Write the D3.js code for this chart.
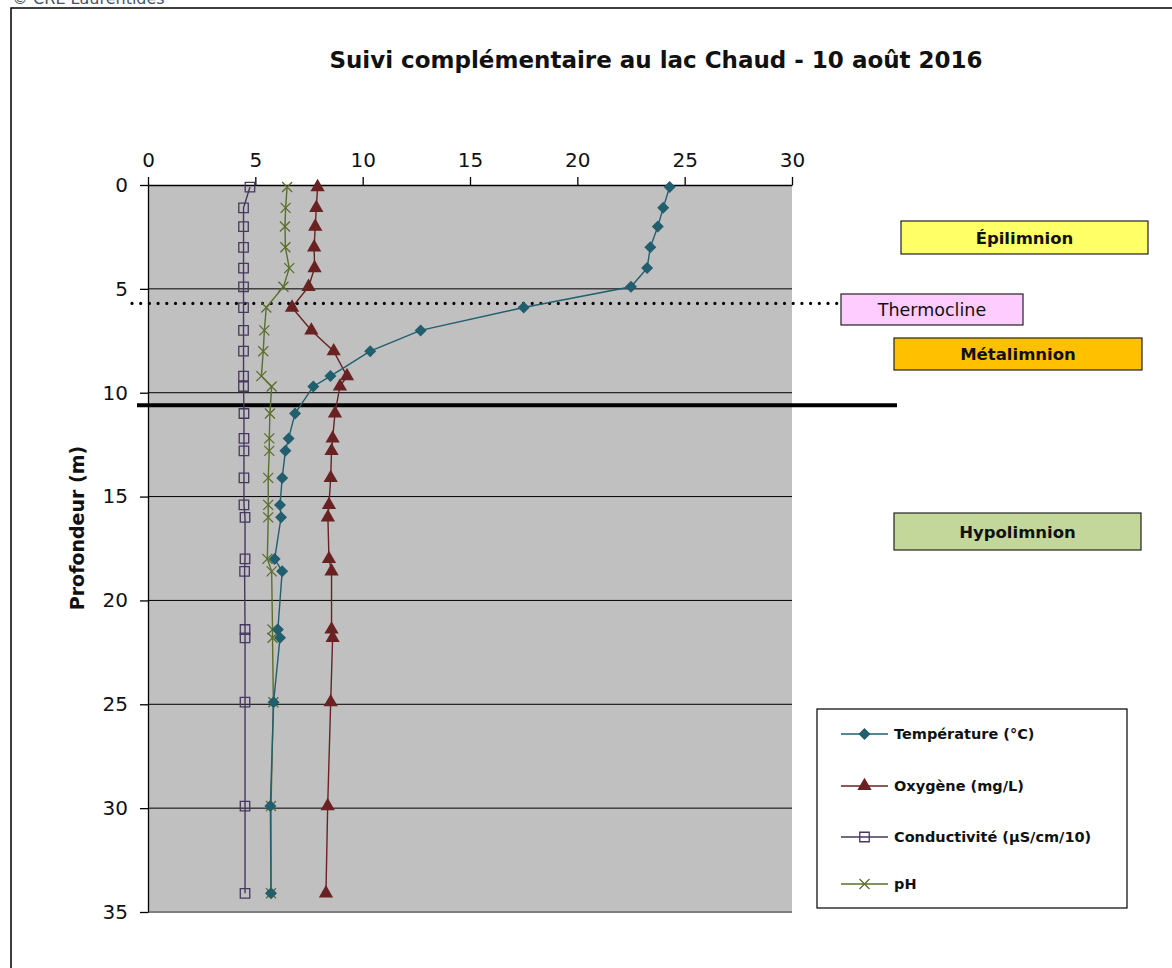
<!DOCTYPE html>
<html>
<head>
<meta charset="utf-8">
<script src="https://cdn.jsdelivr.net/npm/d3@7"></script>
<style>
  body { margin: 0; background: #fff; }
  svg { display: block; font-family: "DejaVu Sans", sans-serif; }
</style>
</head>
<body>
<script>
// data
const depths = [0.1, 1.1, 2.0, 3.0, 4.0, 4.9, 5.9, 7.0, 8.0, 9.2, 9.7, 11.0, 12.2, 12.8, 14.1, 15.4, 16.0, 18.0, 18.6, 21.4, 21.8, 24.9, 29.9, 34.1];
const temperature = [24.3, 24.0, 23.75, 23.4, 23.25, 22.5, 17.5, 12.7, 10.35, 8.5, 7.7, 6.85, 6.55, 6.4, 6.25, 6.15, 6.2, 5.9, 6.25, 6.05, 6.15, 5.85, 5.7, 5.73];
const oxygen = [7.9, 7.84, 7.79, 7.74, 7.76, 7.48, 6.71, 7.61, 8.65, 9.27, 8.94, 8.71, 8.6, 8.55, 8.51, 8.43, 8.38, 8.43, 8.55, 8.55, 8.6, 8.51, 8.37, 8.29];
const conductivity = [4.75, 4.45, 4.45, 4.45, 4.45, 4.45, 4.45, 4.45, 4.45, 4.45, 4.45, 4.47, 4.47, 4.47, 4.47, 4.47, 4.52, 4.52, 4.5, 4.52, 4.52, 4.52, 4.52, 4.52];
const ph = [6.48, 6.41, 6.38, 6.4, 6.58, 6.31, 5.51, 5.42, 5.37, 5.28, 5.76, 5.68, 5.65, 5.65, 5.6, 5.6, 5.6, 5.56, 5.76, 5.8, 5.8, 5.84, 5.73, 5.73];

const seriesNames = ["Température (°C)", "Oxygène (mg/L)", "Conductivité (µS/cm/10)", "pH"];
const xTicks = [0, 5, 10, 15, 20, 25, 30];
const yTicks = [0, 5, 10, 15, 20, 25, 30, 35];
const thermoclineDepth = 5.7;
const metalimnionBottom = 10.6;

const w = 1172;
const h = 968;
const colors = ["#215e6e", "#6a2121", "#46385f", "#5b6e2c"];

const svg = d3.select("body").append("svg").attr("width", w).attr("height", h);

// outer frame
svg.append("rect")
  .attr("x", 11).attr("y", 8)
  .attr("width", w + 20).attr("height", h + 20)
  .attr("fill", "none").attr("stroke", "#000").attr("stroke-width", 1.5);

svg.append("text")
  .attr("x", 12).attr("y", 4)
  .attr("font-size", 16)
  .attr("fill", "#44546a")
  .text("© CRE Laurentides");

// scales
const xScale = d3.scaleLinear().domain([0, 30]).range([148, 792]);
const yScale = d3.scaleLinear().domain([0, 35]).range([185, 912]);

// plot background
svg.append("rect")
  .attr("x", xScale(0)).attr("y", yScale(0))
  .attr("width", xScale(30) - xScale(0))
  .attr("height", yScale(35) - yScale(0))
  .attr("fill", "#c0c0c0");

svg.append("line")
  .attr("x1", xScale(0)).attr("x2", xScale(30))
  .attr("y1", yScale(35)).attr("y2", yScale(35))
  .attr("stroke", "#808080").attr("stroke-width", 2);

// horizontal gridlines
svg.selectAll("line.grid")
  .data(yTicks.filter((d) => d > 0 && d < 35))
  .enter()
  .append("line")
  .attr("class", "grid")
  .attr("x1", xScale(0)).attr("x2", xScale(30))
  .attr("y1", (d) => yScale(d)).attr("y2", (d) => yScale(d))
  .attr("stroke", "#000").attr("stroke-width", 1);

// axes
const xAxis = d3.axisTop(xScale).tickValues(xTicks).tickSize(8).tickSizeOuter(0).tickPadding(10);
const yAxis = d3.axisLeft(yScale).tickValues(yTicks).tickSize(8).tickSizeOuter(0).tickPadding(12);

const gx = svg.append("g")
  .attr("transform", "translate(0," + yScale(0) + ")")
  .call(xAxis);
const gy = svg.append("g")
  .attr("transform", "translate(" + xScale(0) + ",0)")
  .call(yAxis);

[gx, gy].forEach((g) => {
  g.select(".domain").attr("stroke", "#000").attr("stroke-width", 1.3);
  g.selectAll(".tick line").attr("stroke", "#000").attr("stroke-width", 1.3);
  g.selectAll(".tick text")
    .attr("font-family", "DejaVu Sans, sans-serif")
    .attr("font-size", 20)
    .attr("fill", "#111");
});

// thermocline (dotted) and metalimnion bottom (thick)
svg.append("line")
  .attr("x1", 132).attr("x2", 838)
  .attr("y1", yScale(thermoclineDepth)).attr("y2", yScale(thermoclineDepth))
  .attr("stroke", "#000").attr("stroke-width", 3.2)
  .attr("stroke-linecap", "round")
  .attr("stroke-dasharray", "0 8.7");

svg.append("line")
  .attr("x1", 137).attr("x2", 897)
  .attr("y1", yScale(metalimnionBottom)).attr("y2", yScale(metalimnionBottom))
  .attr("stroke", "#000").attr("stroke-width", 4);

// series
const allValues = [temperature, oxygen, conductivity, ph];
const series = allValues.map((vals, i) => ({
  name: seriesNames[i],
  color: colors[i],
  points: vals.map((v, j) => ({ v: v, d: depths[j] }))
}));

const line = d3.line().x((p) => xScale(p.v)).y((p) => yScale(p.d));

const diamond = d3.symbol().type(d3.symbolSquare).size(72);
const triangle = d3.symbol().type(d3.symbolTriangle).size(88);
const square = d3.symbol().type(d3.symbolSquare).size(90);
const cross = "M-5,-5L5,5M-5,5L5,-5";

function drawMarker(g, s, idx, cx, cy) {
  if (idx === 0) {
    g.append("path").attr("d", diamond())
      .attr("transform", `translate(${cx},${cy}) rotate(45)`)
      .attr("fill", s.color);
  } else if (idx === 1) {
    g.append("path").attr("d", triangle())
      .attr("transform", `translate(${cx},${cy})`)
      .attr("fill", s.color);
  } else if (idx === 2) {
    g.append("path").attr("d", square())
      .attr("transform", `translate(${cx},${cy})`)
      .attr("fill", "none").attr("stroke", s.color).attr("stroke-width", 1.3);
  } else {
    g.append("path").attr("d", cross)
      .attr("transform", `translate(${cx},${cy})`)
      .attr("fill", "none").attr("stroke", s.color).attr("stroke-width", 1.3);
  }
}

// draw order: conductivity, pH, oxygen, temperature on top
[2, 3, 1, 0].forEach((idx) => {
  const s = series[idx];
  const g = svg.append("g");
  g.append("path")
    .datum(s.points)
    .attr("d", line)
    .attr("fill", "none")
    .attr("stroke", s.color)
    .attr("stroke-width", 1.4);
  s.points.forEach((p) => drawMarker(g, s, idx, xScale(p.v), yScale(p.d)));
});

// title
svg.append("text")
  .attr("x", 656).attr("y", 68)
  .attr("text-anchor", "middle")
  .attr("font-size", 23)
  .attr("font-weight", "bold")
  .attr("fill", "#111")
  .text("Suivi complémentaire au lac Chaud - 10 août 2016");

// y axis title
svg.append("text")
  .attr("transform", "translate(84,528) rotate(-90)")
  .attr("text-anchor", "middle")
  .attr("font-size", 19)
  .attr("font-weight", "bold")
  .attr("fill", "#111")
  .text("Profondeur (m)");

// layer boxes
const boxes = [
  { label: "Épilimnion", x: 901, y: 221, bw: 247, bh: 33, fill: "#ffff66", bold: true },
  { label: "Thermocline", x: 841, y: 294, bw: 182, bh: 31, fill: "#ffccff", bold: false },
  { label: "Métalimnion", x: 894, y: 338, bw: 248, bh: 32, fill: "#ffc000", bold: true },
  { label: "Hypolimnion", x: 894, y: 513, bw: 247, bh: 37, fill: "#c4d79b", bold: true }
];
boxes.forEach((b) => {
  svg.append("rect")
    .attr("x", b.x).attr("y", b.y)
    .attr("width", b.bw).attr("height", b.bh)
    .attr("fill", b.fill).attr("stroke", "#222").attr("stroke-width", 1.2);
  svg.append("text")
    .attr("x", b.x + b.bw / 2).attr("y", b.y + b.bh / 2 + 6)
    .attr("text-anchor", "middle")
    .attr("font-size", b.bold ? 16.5 : 17.5)
    .attr("font-weight", b.bold ? "bold" : "normal")
    .attr("fill", "#111")
    .text(b.label);
});

// legend
svg.append("rect")
  .attr("x", 817).attr("y", 709)
  .attr("width", 310).attr("height", 199)
  .attr("fill", "#fff").attr("stroke", "#000").attr("stroke-width", 1.2);

const legendRows = [734, 786, 837, 884];
series.forEach((s, i) => {
  const g = svg.append("g");
  const ly = legendRows[i];
  g.append("line")
    .attr("x1", 841).attr("x2", 888)
    .attr("y1", ly).attr("y2", ly)
    .attr("stroke", s.color).attr("stroke-width", 1.4);
  drawMarker(g, s, i, 864.5, ly);
  g.append("text")
    .attr("x", 894).attr("y", ly + 5)
    .attr("font-size", 14.5)
    .attr("font-weight", "bold")
    .attr("fill", "#111")
    .text(s.name);
});
</script>
</body>
</html>
